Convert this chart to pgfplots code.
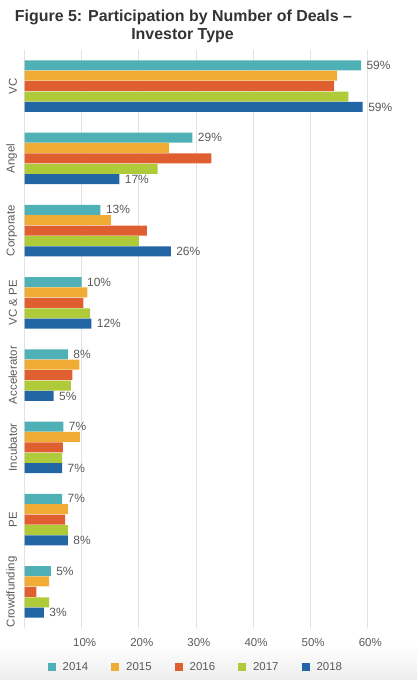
\documentclass[border=0pt]{standalone}
\usepackage{pgfplots}
\pgfplotsset{compat=1.18}
\usepackage{pgfplotstable}
\usepackage{fontspec}
\setmainfont{Liberation Sans}
\definecolor{c14}{HTML}{4FB0B5}
\definecolor{c15}{HTML}{F0AC35}
\definecolor{c16}{HTML}{DF5F30}
\definecolor{c17}{HTML}{AFCB3A}
\definecolor{c18}{HTML}{2266A6}
\definecolor{txt}{HTML}{5A5A5A}
\definecolor{ttl}{HTML}{333333}
\definecolor{grd}{HTML}{E2E2E2}

\pgfplotstableread{
y  a    la  b    c    d    e    le
7  58.9 59  54.7 54.2 56.7 59.2 59
6  29.4 29  25.3 32.7 23.3 16.6 17
5  13.3 13  15.1 21.4 20.0 25.6 26
4  10.0 10  11.0 10.3 11.5 11.7 12
3  7.6  8   9.6  8.4  8.1  5.1  5
2  6.8  7   9.7  6.7  6.6  6.6  7
1  6.6  7   7.6  7.1  7.6  7.6  8
0  4.6  5   4.3  2.1  4.3  3.4  3
}\datatable

\newcommand{\lbl}{\fontsize{11.5}{13}\selectfont}
\newcommand{\nlbl}{\fontsize{12}{13}\selectfont}

\begin{document}
\begin{tikzpicture}
\useasboundingbox (-24.5bp,-52bp) rectangle (392.5bp,628bp);
\shade[top color=white, bottom color=black!7] (-24.5bp,-52bp) rectangle (392.5bp,-17bp);
\node[anchor=base, font=\bfseries\fontsize{16}{17}\selectfont, text=ttl] at (159bp,606.3bp) {Figure 5: Participation by Number of Deals –};
\node[anchor=base, font=\bfseries\fontsize{16}{17}\selectfont, text=ttl] at (158bp,588.7bp) {Investor Type};
\begin{axis}[
  at={(0bp,0bp)}, anchor=south west,
  scale only axis, width=342.8bp, height=578bp,
  xmin=0, xmax=60, ymin=-0.5, ymax=7.5,
  /pgf/number format/assume math mode=true,
  xbar, bar width=0.138,
  ytick={0,...,7},
  yticklabels={Crowdfunding,PE,Incubator,Accelerator,VC \& PE,Corporate,Angel,VC},
  yticklabel style={rotate=90, anchor=south, font=\lbl, color=txt, yshift=4bp},
  xtick={0,10,...,60},
  xticklabels={,10\%,20\%,30\%,40\%,50\%,60\%},
  xticklabel style={font=\lbl, color=txt, xshift=3bp, yshift=-7bp},
  xmajorgrids, ymajorgrids=false,
  grid style={grd, line width=0.8bp},
  axis line style={draw=none}, major tick length=0,
  clip=false,
  every node near coord/.append style={font=\nlbl, color=txt, anchor=west, xshift=2bp},
  nodes near coords={\pgfmathprintnumber{\pgfplotspointmeta}\%},
  legend style={at={(0.5,0)}, anchor=north, yshift=-30bp, draw=none, fill=none,
    legend columns=-1, font=\lbl, text=txt,
    /tikz/every odd column/.append style={column sep=5bp},
    /tikz/every even column/.append style={column sep=21bp}},
  legend image code/.code={\fill[#1] (0bp,-4bp) rectangle (8bp,4bp);},
]
\addplot[fill=c14, draw=none, bar shift=0.288, point meta=explicit] table[x=a, y=y, meta=la] {\datatable};
\addplot[fill=c15, draw=none, bar shift=0.144, nodes near coords={}] table[x=b, y=y] {\datatable};
\addplot[fill=c16, draw=none, bar shift=0, nodes near coords={}] table[x=c, y=y] {\datatable};
\addplot[fill=c17, draw=none, bar shift=-0.144, nodes near coords={}] table[x=d, y=y] {\datatable};
\addplot[fill=c18, draw=none, bar shift=-0.288, point meta=explicit] table[x=e, y=y, meta=le] {\datatable};
\legend{2014,2015,2016,2017,2018}
\end{axis}
\end{tikzpicture}
\end{document}
